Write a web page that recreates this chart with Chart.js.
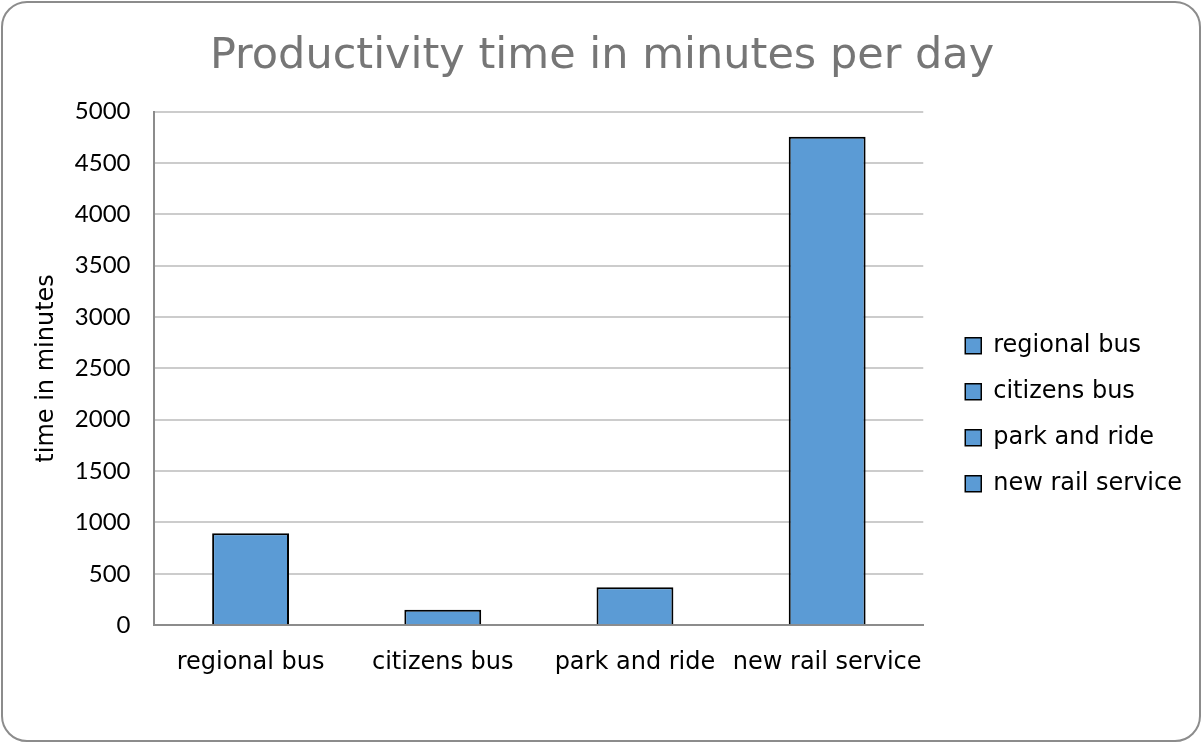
<!DOCTYPE html>
<html lang="en">
<head>
    <meta charset="UTF-8">
    <title>Productivity time in minutes per day</title>
    <script src="https://cdn.jsdelivr.net/npm/chart.js"></script>
    <style>
        html, body { margin: 0; padding: 0; background: #fff; }
        #frame {
            position: absolute; left: 1px; top: 1px;
            width: 1196px; height: 737px;
            border: 2px solid #8c8c8c; border-radius: 26px;
            overflow: hidden; background: #fff;
        }
        #wrap { position: absolute; left: 0; top: 0; width: 1196px; height: 737px; }
    </style>
</head>
<body>
    <div id="frame"><div id="wrap"><canvas id="prodChart"></canvas></div></div>

    <script>
        const categories = ['regional bus', 'citizens bus', 'park and ride', 'new rail service'];
        const minutes = [895, 150, 370, 4755];
        const yTicks = [0, 500, 1000, 1500, 2000, 2500, 3000, 3500, 4000, 4500, 5000];

        const barColor = '#5b9bd5';
        const labelFont = '"DejaVu Sans", sans-serif';
        const numFont = 'Lato, sans-serif';

        // push the legend a little away from the plot area
        const legendGap = {
            id: 'legendGap',
            afterUpdate(chart) {
                chart.legend.left += 20;
                chart.legend.right += 20;
            }
        };

        const ctx = document.getElementById('prodChart').getContext('2d');
        const prodChart = new Chart(ctx, {
            type: 'bar',
            data: {
                labels: categories,
                datasets: [{
                    label: 'time in minutes',
                    data: minutes,
                    backgroundColor: barColor,
                    borderColor: '#000',
                    borderWidth: 2,
                    barPercentage: 0.4,
                    categoryPercentage: 1.0
                }]
            },
            options: {
                responsive: true,
                maintainAspectRatio: false,
                animation: false,
                layout: { padding: { left: 29, right: 27, top: 0, bottom: 40 } },
                plugins: {
                    title: {
                        display: true,
                        text: 'Productivity time in minutes per day',
                        color: '#767676',
                        font: { family: labelFont, size: 43, weight: 'normal' },
                        padding: { top: 28, bottom: 29 }
                    },
                    legend: {
                        position: 'right',
                        title: { display: true, text: ' ', padding: { top: 0, bottom: 112 } },
                        labels: {
                            font: { family: labelFont, size: 24 },
                            color: '#000',
                            boxWidth: 16,
                            boxHeight: 16,
                            padding: 22,
                            generateLabels: function (chart) {
                                return categories.map(function (name, i) {
                                    return {
                                        text: name,
                                        fillStyle: barColor,
                                        strokeStyle: '#000',
                                        lineWidth: 1.5,
                                        fontColor: '#000',
                                        index: i,
                                        datasetIndex: 0
                                    };
                                });
                            }
                        },
                        onClick: null
                    },
                    tooltip: { enabled: false }
                },
                scales: {
                    x: {
                        grid: { display: false, drawTicks: false },
                        border: { color: '#8c8c8c', width: 2 },
                        ticks: {
                            color: '#000',
                            font: { family: labelFont, size: 24 },
                            padding: 23,
                            autoSkip: false,
                            maxRotation: 0,
                            minRotation: 0
                        }
                    },
                    y: {
                        min: 0,
                        max: 5000,
                        afterBuildTicks: function (axis) {
                            axis.ticks = yTicks.map(function (v) { return { value: v }; });
                        },
                        grid: { color: '#cccccc', lineWidth: 2, drawTicks: false },
                        border: { color: '#8c8c8c', width: 2 },
                        title: {
                            display: true,
                            text: 'time in minutes',
                            color: '#000',
                            font: { family: labelFont, size: 24 },
                            padding: { top: 0, bottom: -10 }
                        },
                        ticks: {
                            color: '#000',
                            font: { family: numFont, size: 24 },
                            padding: 24,
                            callback: function (v) { return String(v); }
                        }
                    }
                }
            },
            plugins: [legendGap]
        });
    </script>
</body>
</html>
